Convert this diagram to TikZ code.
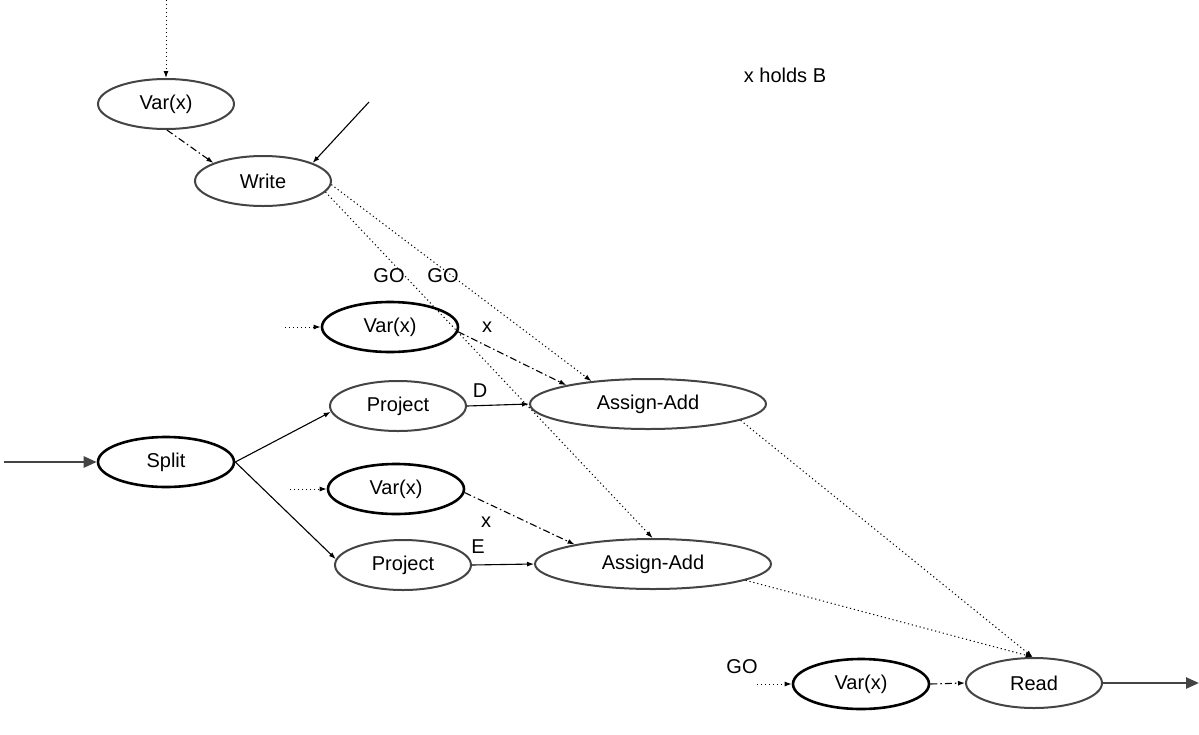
\documentclass[tikz,border=0pt]{standalone}
\usepackage{fontspec}
\setmainfont{Liberation Sans}
\usetikzlibrary{shapes.geometric,arrows.meta}

\definecolor{rim}{HTML}{444444}

\tikzset{
  op/.style={ellipse, draw=rim, line width=2pt, minimum width=136pt,
    minimum height=50pt, inner sep=0pt, font=\fontsize{20pt}{24pt}\selectfont},
  opbold/.style={op, draw=black, line width=2.6pt},
  wide/.style={op, minimum width=236pt},
  lbl/.style={inner sep=0pt, font=\fontsize{20pt}{24pt}\selectfont},
  tip/.style={-{Latex[length=7pt,width=5pt]}},
  flow/.style={tip, line width=1.1pt},
  ctrl/.style={tip, line width=1pt, dash pattern=on 1.2pt off 2.8pt},
  ref/.style={tip, line width=1.1pt, dash pattern=on 7pt off 3pt on 1.5pt off 3pt},
  io/.style={-{Triangle[length=13pt,width=11pt]}, draw=rim, line width=2.5pt}
}

\begin{document}
\begin{tikzpicture}[x=1pt, y=-1pt]
  \useasboundingbox (0,0) rectangle (1199,734);

  % operation nodes
  \node[op]     (v1)    at (166,104) {Var(x)};
  \node[op]     (write) at (263,181) {Write};
  \node[opbold] (v2)    at (390,327) {Var(x)};
  \node[op]     (p1)    at (398,406) {Project};
  \node[wide]   (aa1)   at (648,404) {Assign-Add};
  \node[opbold] (split) at (166,462) {Split};
  \node[opbold] (v3)    at (396,489) {Var(x)};
  \node[op]     (p2)    at (403,565) {Project};
  \node[wide]   (aa2)   at (653,564) {Assign-Add};
  \node[opbold] (v4)    at (861,684) {Var(x)};
  \node[op]     (read)  at (1034,683) {Read};

  % free ends of connectors
  \coordinate (topin)  at (166,0);
  \coordinate (wrin)   at (369,102);
  \coordinate (v2in)   at (285,327);
  \coordinate (v3in)   at (290,489);
  \coordinate (v4in)   at (757,684);
  \coordinate (src)    at (4,462);
  \coordinate (sink)   at (1199,683);

  % labels
  \node[lbl] (note) at (785,75)  {x holds B};
  \node[lbl] (go1)  at (389,276) {GO};
  \node[lbl] (go2)  at (443,276) {GO};
  \node[lbl] (lx1)  at (487,327) {x};
  \node[lbl] (ld)   at (480,391) {D};
  \node[lbl] (lx2)  at (486,522) {x};
  \node[lbl] (le)   at (478,547) {E};
  \node[lbl] (go3)  at (742,667) {GO};

  % connectors
  \draw[ctrl] (topin) -- (v1.north);
  \draw[ref]  (v1.-88) -- (write.160);
  \draw[flow] (wrin) -- (write.20);
  \draw[ctrl] (write.-3) -- (aa1.158);
  \draw[ctrl] (write.-10) -- (aa2.91);
  \draw[ctrl] (v2in) -- (v2.west);
  \draw[ref]  (v2.-4) -- (aa1.167);
  \draw[flow] (p1.east) -- (aa1.west);
  \draw[flow] (split.east) -- (p1.185);
  \draw[flow] (split.east) -- (p2.175);
  \draw[io]   (src) -- (split.west);
  \draw[ctrl] (v3in) -- (v3.west);
  \draw[ref]  (v3.-3) -- (aa2.166);
  \draw[flow] (p2.east) -- (aa2.west);
  \draw[ctrl] (aa1.-10) -- (read.93);
  \draw[ctrl] (aa2.-10) -- (read.93);
  \draw[ctrl] (v4in) -- (v4.west);
  \draw[ref]  (v4.east) -- (read.west);
  \draw[io]   (read.east) -- (sink);
\end{tikzpicture}
\end{document}
